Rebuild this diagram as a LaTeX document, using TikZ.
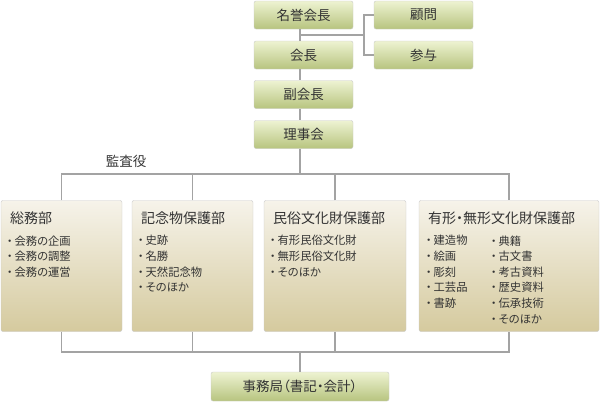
\documentclass[tikz,border=0pt]{standalone}
\usepackage{fontspec}
\setmainfont[RawFeature=+palt]{Noto Sans CJK JP}
\usetikzlibrary{positioning,calc}
\definecolor{gtop}{HTML}{EEF3D2}
\definecolor{gbot}{HTML}{B7C47F}
\definecolor{btop}{HTML}{F6F3EA}
\definecolor{bbot}{HTML}{D5CA9E}
\definecolor{rim}{HTML}{C9C9C9}
\definecolor{linegray}{HTML}{A3A3A3}
\definecolor{ink}{HTML}{333333}
\newcommand\itm{・\kern2pt}
\tikzset{post/.style={draw=rim,rounded corners=2pt,top color=gtop,bottom color=gbot,minimum width=99pt,minimum height=28pt,inner sep=0pt,text=ink,font=\fontsize{13.5}{15}\selectfont},dept/.style={draw=rim,rounded corners=2pt,top color=btop,bottom color=bbot,minimum height=131pt,inner sep=0pt},head/.style={anchor=north west,inner sep=0pt,text=ink,font=\fontsize{14}{16}\selectfont},items/.style={anchor=north west,inner sep=0pt,align=left,text=ink,font=\fontsize{11.3}{15.6}\selectfont},wire/.style={draw=linegray,line width=1.7pt}}

\begin{document}
\begin{tikzpicture}[x=1pt,y=-1pt]
\useasboundingbox (0,0) rectangle (600,402);
\coordinate (spine) at (300,0);
\coordinate (side) at (364,35);
\coordinate (audit) at (300,174);
\coordinate (mid) at (300,352);
% top posts
\node[post] (hon) at (303.5,15) {名誉会長};
\node[post] (adv) at (423.5,15) {顧問};
\node[post] (cnl) at (423.5,55) {参与};
\node[post] (pres) at (303.5,55) {会長};
\node[post] (vice) at (303.5,94.5) {副会長};
\node[post] (board) at (303.5,134.5) {理事会};
\node[text=ink,font=\fontsize{13.5}{15}\selectfont] (aud) at (126,161.5) {監査役};
% departments
\node[dept,minimum width=121pt] (gen) at (61.5,266) {};
\node[dept,minimum width=121pt] (mon) at (192.5,266) {};
\node[dept,minimum width=142pt] (folk) at (335,266) {};
\node[dept,minimum width=180pt] (prop) at (509,266) {};
\node[head] (genh) at ($(gen.north west)+(9,11)$) {総務部};
\node[head] (monh) at ($(mon.north west)+(9,11)$) {記念物保護部};
\node[head] (folkh) at ($(folk.north west)+(9,11)$) {民俗文化財保護部};
\node[head] (proph) at ($(prop.north west)+(9,11)$) {有形・無形文化財保護部};
\node[items] (genl) at ($(gen.north west)+(6,35)$) {\itm 会務の企画\\\itm 会務の調整\\\itm 会務の運営};
\node[items] (monl) at ($(mon.north west)+(6,35)$) {\itm 史跡\\\itm 名勝\\\itm 天然記念物\\\itm そのほか};
\node[items] (folkl) at ($(folk.north west)+(6,35)$) {\itm 有形民俗文化財\\\itm 無形民俗文化財\\\itm そのほか};
\node[items] (propl) at ($(prop.north west)+(7,35)$) {\itm 建造物\\\itm 絵画\\\itm 彫刻\\\itm 工芸品\\\itm 書跡};
\node[items] (propr) at ($(prop.north west)+(72,35)$) {\itm 典籍\\\itm 古文書\\\itm 考古資料\\\itm 歴史資料\\\itm 伝承技術\\\itm そのほか};
\node[post,minimum width=178pt,minimum height=29pt] (office) at (300,386.5) {事務局（書記・会計）};
% connectors
\foreach \a/\b in {hon/pres,pres/vice,vice/board}{\draw[wire] (\a.south -| spine) -- (\b.north -| spine);}
\draw[wire] (board.south -| spine) -- (audit);
\draw[wire] (spine |- side) -- (side);
\draw[wire] (adv.west) -| (side) |- (cnl.west);
\draw[wire] (gen.north) |- (prop.north |- audit) -- (prop.north);
\draw[wire] (gen.south) |- (prop.south |- mid) -- (prop.south);
\foreach \n in {mon,folk}{\draw[wire] (\n.north) -- (\n.north |- audit);\draw[wire] (\n.south) -- (\n.south |- mid);}
\draw[wire] (mid) -- (office.north);
\end{tikzpicture}
\end{document}
